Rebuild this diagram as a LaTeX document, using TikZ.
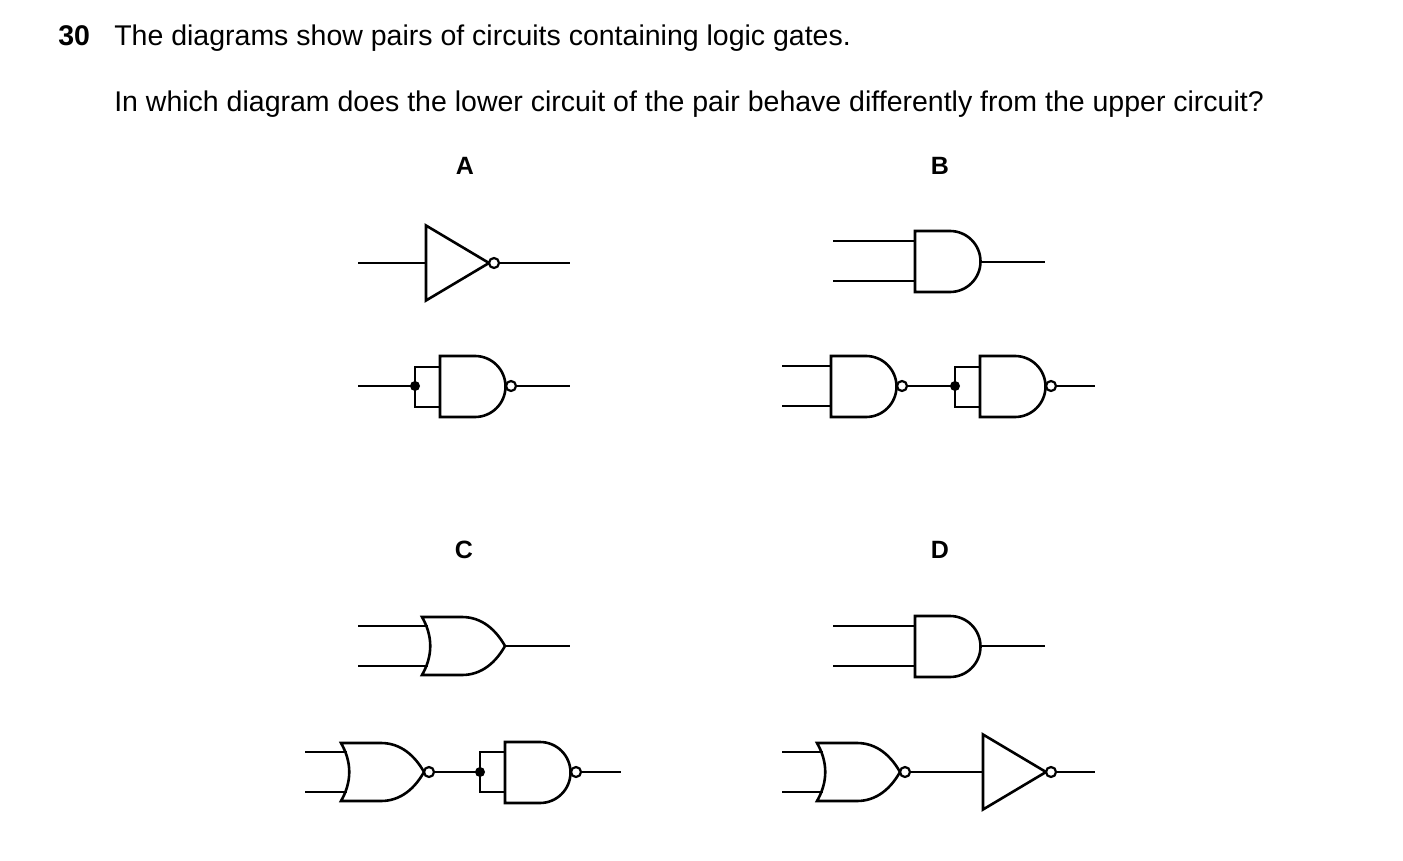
\documentclass[tikz,border=0pt]{standalone}
\usepackage{fontspec}
\setmainfont{Liberation Sans}
\begin{document}
\begin{tikzpicture}[x=1pt,y=-1pt,line width=2.6pt,line join=miter,
  bub/.style={line width=2.2pt,fill=white},
  lab/.style={font=\fontsize{25}{25}\selectfont\bfseries,anchor=center},
  txt/.style={font=\fontsize{28.5}{32}\selectfont,anchor=base west,inner sep=0},
  pics/andg/.style={code={\draw (0,-30.5) -- (35,-30.5) arc[start angle=-90,end angle=90,radius=30.5] -- (0,30.5) -- cycle;}},
  pics/org/.style={code={\draw (0,-29) .. controls (11,-10) and (11,10) .. (0,29) -- (40,29) .. controls (60,29) and (74,16) .. (83,0) .. controls (74,-16) and (60,-29) .. (40,-29) -- cycle;}},
  pics/notg/.style={code={\draw (0,-37.5) -- (63,0) -- (0,37.5) -- cycle;}}
]
\useasboundingbox (0,0) rectangle (1403,861);
\node[txt,font=\fontsize{28.5}{32}\selectfont\bfseries] (n30) at (57,46) {30};
\node[txt] (t1) at (113,46) {The diagrams show pairs of circuits containing logic gates.};
\node[txt] (t2) at (113,112) {In which diagram does the lower circuit of the pair behave differently from the upper circuit?};
\node[lab] (la) at (465,166) {A};
\node[lab] (lb) at (940,166) {B};
\node[lab] (lc) at (464,550) {C};
\node[lab] (ld) at (940,550) {D};

% A top
\draw (358,263) -- (426,263);
\pic at (426,263) {notg};
\draw (500,263) -- (570,263);
\draw[bub] (494,263) circle (5);
% A lower
\draw (358,386) -- (415,386);
\draw (440,367) -- (415,367) -- (415,407) -- (440,407);
\fill (415,386) circle (5);
\pic at (440,386.5) {andg};
\draw (516,386) -- (570,386);
\draw[bub] (511,386) circle (5);

% B top
\draw (833,241) -- (915,241) (833,281) -- (915,281);
\pic at (915,261.5) {andg};
\draw (981,262) -- (1045,262);
% B lower
\draw (782,366) -- (831,366) (782,406) -- (831,406);
\pic at (831,386.5) {andg};
\draw (907,386) -- (955,386);
\draw[bub] (902,386) circle (5);
\draw (980,367) -- (955,367) -- (955,407) -- (980,407);
\fill (955,386) circle (5);
\pic at (980,386.5) {andg};
\draw (1056,386) -- (1095,386);
\draw[bub] (1051,386) circle (5);

% C top
\draw (358,626) -- (428,626) (358,666) -- (428,666);
\pic at (422,646) {org};
\draw (505,646) -- (570,646);
% C lower
\draw (305,752) -- (347,752) (305,792) -- (347,792);
\pic at (341,772) {org};
\draw (434,772) -- (480,772);
\draw[bub] (429,772) circle (5);
\draw (505,752) -- (480,752) -- (480,792) -- (505,792);
\fill (480,772) circle (5);
\pic at (505,772.5) {andg};
\draw (581,772) -- (621,772);
\draw[bub] (576,772) circle (5);

% D top
\draw (833,626) -- (915,626) (833,666) -- (915,666);
\pic at (915,646.5) {andg};
\draw (981,646) -- (1045,646);
% D lower
\draw (782,752) -- (823,752) (782,792) -- (823,792);
\pic at (817,772) {org};
\draw (910,772) -- (983,772);
\draw[bub] (905,772) circle (5);
\pic at (983,772) {notg};
\draw (1056,772) -- (1095,772);
\draw[bub] (1051,772) circle (5);
\end{tikzpicture}
\end{document}
